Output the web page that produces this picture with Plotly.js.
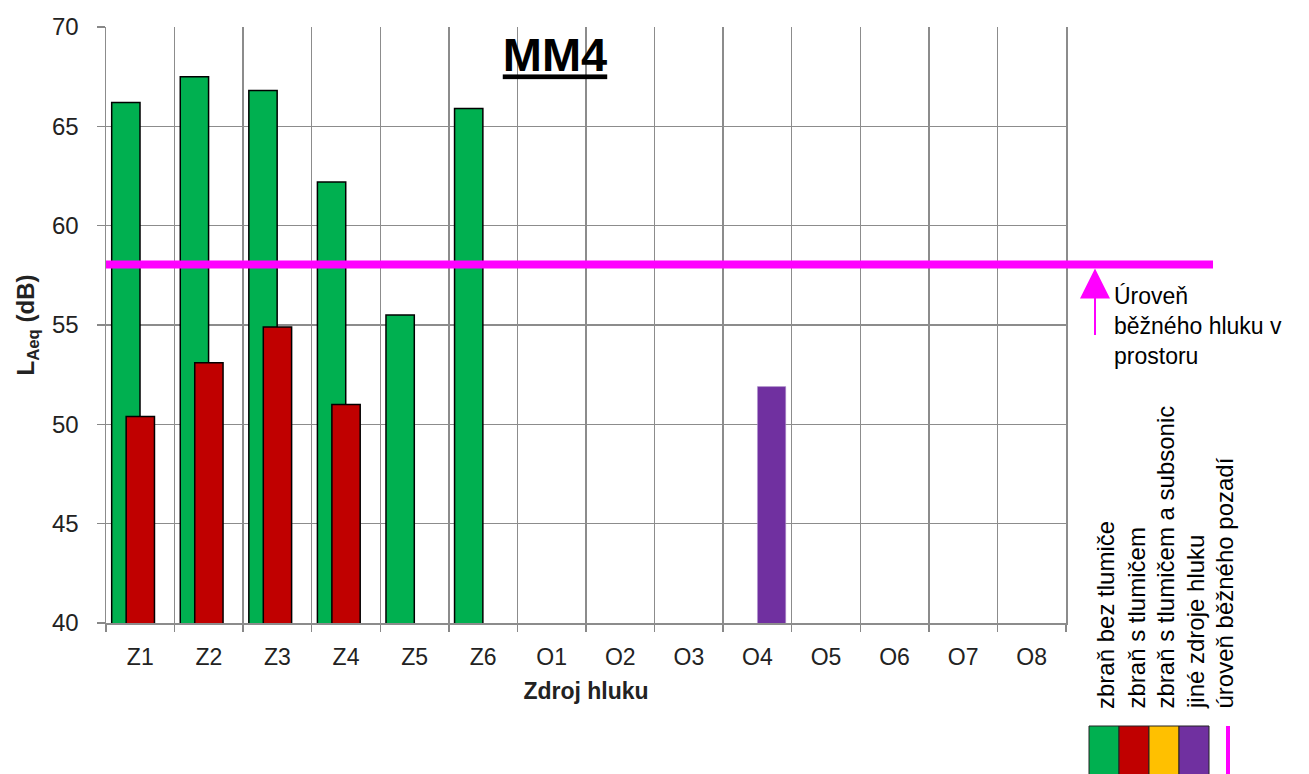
<!DOCTYPE html>
<html>
<head>
<meta charset="utf-8">
<script src="https://cdn.plot.ly/plotly-3.0.1.min.js"></script>
<style>html,body{margin:0;padding:0;background:#fff;}#chart{width:1309px;height:774px;}</style>
</head>
<body>
<div id="chart"></div>
<script>
// ---- data ----
const categories = ['Z1','Z2','Z3','Z4','Z5','Z6','O1','O2','O3','O4','O5','O6','O7','O8'];
const bezTlumice   = [66.2, 67.5, 66.8, 62.2, 55.5, 65.9, null, null, null, null, null, null, null, null];
const sTlumicem    = [50.4, 53.1, 54.9, 51.0, null, null, null, null, null, null, null, null, null, null];
const sTlumicemSub = [null, null, null, null, null, null, null, null, null, null, null, null, null, null];
const jineZdroje   = [null, null, null, null, null, null, null, null, null, 51.9, null, null, null, null];
const urovenPozadi = 58.05;
const legendLabels = ['zbraň bez tlumiče','zbraň s tlumičem','zbraň s tlumičem a subsonic','jiné zdroje hluku','úroveň běžného pozadí'];
const seriesColors = ['#00B050','#C00000','#FFC000','#7030A0','#FF00FF'];

const FONT = 'Liberation Sans, Arial, sans-serif';
const L = 106, R = 1066, T = 27, B = 623;
const px = v => (v - L) / (R - L);
const py = v => (B - v) / (B - T);

const W = 0.413;
const traces = [
  {type:'bar', x:categories, y:bezTlumice, name:legendLabels[0], offset:-0.417, width:W,
   marker:{color:seriesColors[0], line:{color:'#000', width:1.5}}},
  {type:'bar', x:categories, y:sTlumicem, name:legendLabels[1], offset:-0.206, width:W,
   marker:{color:seriesColors[1], line:{color:'#000', width:1.5}}},
  {type:'bar', x:categories, y:sTlumicemSub, name:legendLabels[2], offset:0.0, width:W,
   marker:{color:seriesColors[2], line:{color:'#000', width:1.5}}},
  {type:'bar', x:categories, y:jineZdroje, name:legendLabels[3], offset:0.0, width:W,
   marker:{color:seriesColors[3], line:{color:'#b9a3d0', width:0.5}}}
];

const shapes = [
  {type:'line', xref:'paper', yref:'y', x0:0, x1:px(1213), y0:urovenPozadi, y1:urovenPozadi,
   line:{color:seriesColors[4], width:8}}
];
// legend boxes
const boxX = [1089, 1119, 1149, 1179];
for (let i = 0; i < 4; i++) {
  shapes.push({type:'rect', xref:'paper', yref:'paper', x0:px(boxX[i]), x1:px(boxX[i]+30),
    y0:py(726), y1:py(776), fillcolor:seriesColors[i], line:{color:'#222', width:1}});
}
shapes.push({type:'line', xref:'paper', yref:'paper', x0:px(1228), x1:px(1228), y0:py(726), y1:py(776),
  line:{color:seriesColors[4], width:4}});

const annotations = [
  {xref:'paper', yref:'y', x:px(1095), y:57.85, ax:0, ay:68, text:'', showarrow:true,
   arrowhead:2, arrowsize:3, arrowwidth:2, arrowcolor:seriesColors[4]},
  {xref:'paper', yref:'paper', x:px(1112), y:py(281), xanchor:'left', yanchor:'top', align:'left',
   showarrow:false, text:'Úroveň<br>běžného hluku v<br>prostoru', font:{family:FONT, size:23, color:'#000'}}
];
const legX = [1105, 1136, 1165, 1195, 1224];
for (let i = 0; i < 5; i++) {
  annotations.push({xref:'paper', yref:'paper', x:px(legX[i]), y:py(711), xanchor:'center', yanchor:'bottom',
    textangle:-90, showarrow:false, text:legendLabels[i], font:{family:FONT, size:24, color:'#000'}});
}

const layout = {
  width:1309, height:774,
  margin:{l:L, r:1309-R, t:T, b:774-B},
  paper_bgcolor:'#fff', plot_bgcolor:'#fff',
  barmode:'overlay', showlegend:false,
  title:{text:'<b><u>MM4</u></b>', x:px(555), xref:'paper', xanchor:'center', y:1-55/774, yref:'container', yanchor:'middle',
    font:{family:FONT, size:47, color:'#000'}},
  font:{family:FONT, color:'#222'},
  xaxis:{type:'category', categoryorder:'array', categoryarray:categories, range:[-0.5, 13.5],
    tickson:'boundaries', ticks:'outside', ticklen:7, tickcolor:'#888', tickwidth:1.5,
    showgrid:true, gridcolor:'#8c8c8c', gridwidth:1.5, showline:true, linecolor:'#8c8c8c', linewidth:1.5,
    tickfont:{family:FONT, size:23, color:'#222'}, ticklabelstandoff:13,
    title:{text:'<b>Zdroj hluku</b>', font:{family:FONT, size:23, color:'#222'}, standoff:14}, automargin:false, fixedrange:true},
  yaxis:{range:[40,70], dtick:5, tick0:40, ticks:'outside', ticklen:8, tickcolor:'#888', tickwidth:1.5,
    showgrid:true, gridcolor:'#8c8c8c', gridwidth:1.5, showline:true, mirror:true, linecolor:'#8c8c8c', linewidth:1.5,
    tickfont:{family:FONT, size:24, color:'#222'}, ticklabelstandoff:13, zeroline:false,
    title:{text:'<b>L<sub>Aeq</sub> (dB)</b>', font:{family:FONT, size:24, color:'#222'}, standoff:10}, automargin:false, fixedrange:true},
  shapes:shapes, annotations:annotations
};

Plotly.newPlot('chart', traces, layout, {staticPlot:true, displayModeBar:false});
</script>
</body>
</html>
